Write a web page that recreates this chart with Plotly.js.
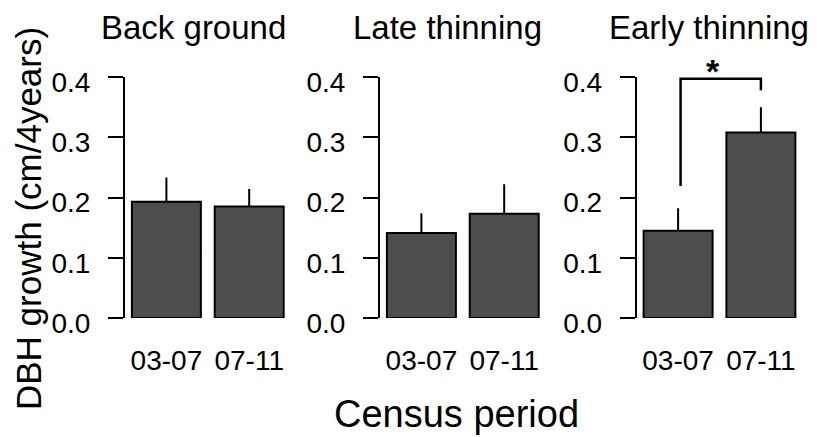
<!DOCTYPE html>
<html>
<head>
<meta charset="utf-8">
<script src="https://cdn.plot.ly/plotly-3.0.1.min.js"></script>
<style>html,body{margin:0;padding:0;background:#fff;}#chart{width:817px;height:437px;}</style>
</head>
<body>
<div id="chart"></div>
<script>
// ---- data ----
const periods = ["03-07", "07-11"];
const panelTitles = ["Back ground", "Late thinning", "Early thinning"];
const backgroundMean = [0.193, 0.185];
const backgroundErr  = [0.040, 0.029];
const lateMean  = [0.141, 0.173];
const lateErr   = [0.033, 0.049];
const earlyMean = [0.145, 0.308];
const earlyErr  = [0.037, 0.042];
const yTicks = [0, 0.1, 0.2, 0.3, 0.4];
const yTickText = ["0.0", "0.1", "0.2", "0.3", "0.4"];
const yTitle = "DBH growth (cm/4years)";
const xTitle = "Census period";
const sigLabel = "*";
// bracket in Early thinning panel: from 03-07 (low end) to 07-11 (low end)
const bracketLeftLow = 0.219, bracketTop = 0.397, bracketRightLow = 0.378;

const means = [backgroundMean, lateMean, earlyMean];
const errs = [backgroundErr, lateErr, earlyErr];

const W = 817, H = 437;
const FONT = "Liberation Sans, Arial, sans-serif";
const axisLeftPx = [125, 380, 636.7];
const axisWidthPx = 165.6;
const plotTop = 77, plotBottom = 318;

const traces = means.map((m, i) => ({
  type: "bar",
  x: periods,
  y: m,
  width: 0.833,
  xaxis: i === 0 ? "x" : "x" + (i + 1),
  yaxis: i === 0 ? "y" : "y" + (i + 1),
  marker: {color: "#4d4d4d", line: {color: "#000", width: 2}},
  error_y: {type: "data", symmetric: false, array: errs[i], arrayminus: [0, 0],
            width: 0, thickness: 2, color: "#000"},
  hoverinfo: "none",
  showlegend: false
}));

const layout = {
  width: W, height: H,
  margin: {l: 0, r: 0, t: 0, b: 0},
  paper_bgcolor: "#fff", plot_bgcolor: "rgba(0,0,0,0)",
  font: {family: FONT, color: "#000"},
  bargap: 0,
  showlegend: false,
  annotations: [],
  shapes: []
};

for (let i = 0; i < 3; i++) {
  const sx = i === 0 ? "" : String(i + 1);
  layout["xaxis" + sx] = {
    domain: [axisLeftPx[i] / W, (axisLeftPx[i] + axisWidthPx) / W],
    anchor: "y" + sx,
    type: "category",
    range: [-0.5, 1.5],
    showline: false, showgrid: false, zeroline: false, ticks: "",
    tickfont: {family: FONT, size: 28, color: "#000"},
    ticklabelstandoff: 23,
    fixedrange: true
  };
  layout["yaxis" + sx] = {
    domain: [1 - plotBottom / H, 1 - plotTop / H],
    anchor: "x" + sx,
    range: [0, 0.4],
    tickvals: yTicks, ticktext: yTickText,
    showline: true, linecolor: "#000", linewidth: 2,
    ticks: "outside", ticklen: 15, tickwidth: 2, tickcolor: "#000",
    showgrid: false, zeroline: false,
    tickfont: {family: FONT, size: 28, color: "#000"},
    ticklabelstandoff: 12,
    ticklabelshift: 5,
    fixedrange: true
  };
}

const titleX = [193.5, 447, 709];
panelTitles.forEach((t, i) => {
  layout.annotations.push({
    text: t, xref: "paper", yref: "paper",
    x: titleX[i] / W, y: 1 - 27 / H, xanchor: "center", yanchor: "middle",
    showarrow: false, font: {family: FONT, size: 33, color: "#000"}
  });
});
layout.annotations.push({
  text: yTitle, xref: "paper", yref: "paper", textangle: -90,
  x: 28 / W, y: 1 - 219 / H, xanchor: "center", yanchor: "middle",
  showarrow: false, font: {family: FONT, size: 35, color: "#000"}
});
layout.annotations.push({
  text: xTitle, xref: "paper", yref: "paper",
  x: 456 / W, y: 1 - 414 / H, xanchor: "center", yanchor: "middle",
  showarrow: false, font: {family: FONT, size: 38, color: "#000"}
});
layout.annotations.push({
  text: "<b>" + sigLabel + "</b>", xref: "paper", yref: "paper",
  x: 713 / W, y: 1 - 71 / H, xanchor: "center", yanchor: "middle",
  showarrow: false, font: {family: FONT, size: 34, color: "#000"}
});
layout.shapes.push({
  type: "path", xref: "x3", yref: "y3",
  path: `M 0.03,${bracketLeftLow} L 0.03,${bracketTop} L 1,${bracketTop} L 1,${bracketRightLow}`,
  line: {color: "#000", width: 2.5}
});

Plotly.newPlot("chart", traces, layout, {displayModeBar: false, staticPlot: true});
</script>
</body>
</html>
